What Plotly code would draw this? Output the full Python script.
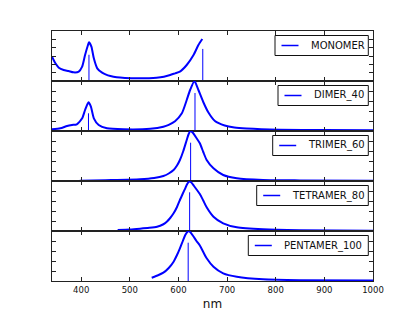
import plotly.graph_objects as go
from plotly.subplots import make_subplots

# ---------------- data ----------------
names = ["MONOMER", "DIMER_40", "TRIMER_60", "TETRAMER_80", "PENTAMER_100"]

monomer_nm = [340, 347, 354, 364, 374, 384, 395, 402, 408, 414, 416, 421, 426, 433, 443, 450,
              460, 473, 490, 520, 555, 570, 583, 593, 603, 617, 631, 641, 649]
monomer_abs = [2.92, 2.12, 1.6, 1.32, 1.2, 1.04, 1.12, 1.72, 3.12, 4.32, 4.64, 4.12, 2.72, 1.52, 1.0, 0.8,
               0.6, 0.44, 0.36, 0.32, 0.4, 0.52, 0.72, 0.92, 1.12, 1.92, 3.12, 4.32, 5.04]

dimer_nm = [340, 357, 371, 381, 391, 402, 408, 415, 420, 426, 436, 453, 487, 542, 569, 580, 593, 607,
            617, 624, 633, 641, 651, 661, 675, 695, 715, 740, 808, 900, 1000]
dimer_abs = [0.17, 0.27, 0.5, 0.6, 0.67, 1.27, 2.1, 2.87, 2.43, 1.27, 0.6, 0.27, 0.17, 0.22, 0.43, 0.62, 0.98, 1.77,
             3.1, 4.1, 5.0, 4.1, 2.9, 1.9, 1.0, 0.55, 0.35, 0.25, 0.13, 0.1, 0.08]

trimer_nm = [397, 450, 521, 550, 569, 580, 590, 597, 603, 610, 617, 621, 625, 630, 637, 644, 651, 658,
             672, 692, 720, 774, 850, 1000]
trimer_abs = [0.03, 0.08, 0.17, 0.3, 0.5, 0.75, 1.1, 1.55, 2.1, 3.0, 4.1, 4.7, 5.0, 4.8, 4.3, 3.77, 2.9, 2.1,
              1.27, 0.6, 0.27, 0.1, 0.06, 0.03]

tetramer_nm = [475, 500, 521, 540, 556, 568, 576, 583, 590, 597, 603, 609, 614, 618, 622, 626, 632, 638,
               644, 651, 658, 672, 692, 720, 774, 850, 1000]
tetramer_abs = [0.1, 0.15, 0.23, 0.32, 0.43, 0.65, 0.93, 1.3, 1.77, 2.4, 3.1, 3.75, 4.27, 4.7, 4.95, 4.88, 4.5, 4.1,
                3.7, 3.05, 2.37, 1.43, 0.77, 0.37, 0.17, 0.08, 0.03]

pentamer_nm = [545, 557, 569, 580, 590, 597, 603, 609, 614, 619, 621, 625, 631, 637, 644, 651, 658,
               672, 692, 720, 774, 850, 1000]
pentamer_abs = [0.33, 0.55, 0.83, 1.3, 1.93, 2.6, 3.27, 4.0, 4.6, 4.95, 5.0, 4.85, 4.45, 4.0, 3.55, 2.9, 2.27,
                1.43, 0.77, 0.43, 0.17, 0.08, 0.05]

# stick spectra (transition wavelength, strength)
monomer_stick_nm = [416, 650]
monomer_stick_h = [3.15, 3.85]
dimer_stick_nm = [415, 634]
dimer_stick_h = [1.77, 3.8]
trimer_stick_nm = [625]
trimer_stick_h = [3.83]
tetramer_stick_nm = [623]
tetramer_stick_h = [3.87]
pentamer_stick_nm = [620]
pentamer_stick_h = [3.83]

y_max = [6, 5, 5, 5, 5]
x_ticks = [400, 500, 600, 700, 800, 900, 1000]

series = [
    (monomer_nm, monomer_abs, monomer_stick_nm, monomer_stick_h),
    (dimer_nm, dimer_abs, dimer_stick_nm, dimer_stick_h),
    (trimer_nm, trimer_abs, trimer_stick_nm, trimer_stick_h),
    (tetramer_nm, tetramer_abs, tetramer_stick_nm, tetramer_stick_h),
    (pentamer_nm, pentamer_abs, pentamer_stick_nm, pentamer_stick_h),
]

# ---------------- figure ----------------
# page body has an 8px margin: the figure is offset by (8, 8) in the window
OFF = 8
W, H = 407, 304
PLOT_L, PLOT_R, PLOT_T, PLOT_B = 52, 373, 31, 281   # target window pixels
ML = PLOT_L - OFF
MR = OFF + W - PLOT_R
MT = PLOT_T - OFF
MB = OFF + H - PLOT_B
PW = W - ML - MR
PH_PANEL = (H - MT - MB) / 5.0
FONT = "DejaVu Sans"
BLUE = "#0000ff"

fig = make_subplots(rows=5, cols=1, shared_xaxes=True, vertical_spacing=0)

for i, (nm, ab, snm, sh) in enumerate(series):
    r = i + 1
    fig.add_trace(go.Scatter(x=nm, y=ab, mode="lines", line=dict(color=BLUE, width=2, shape="spline", smoothing=0.6),
                             showlegend=False, hoverinfo="skip"), row=r, col=1)
    sx, sy = [], []
    for p, h in zip(snm, sh):
        sx += [p, p, None]
        sy += [0, h, None]
    fig.add_trace(go.Scatter(x=sx, y=sy, mode="lines", line=dict(color=BLUE, width=1),
                             showlegend=False, hoverinfo="skip"), row=r, col=1)

    fig.update_yaxes(range=[0, y_max[i]], dtick=1, showticklabels=False, ticks="inside", ticklen=4,
                     tickcolor="#222", showline=True, linecolor="#222", linewidth=1, mirror="ticks",
                     showgrid=False, zeroline=False, automargin=False, row=r, col=1)
    fig.update_xaxes(range=[340, 1000], tickvals=x_ticks, ticks="inside", ticklen=4, tickcolor="#222",
                     showline=True, linecolor="#222", linewidth=1, mirror="ticks", showgrid=False,
                     zeroline=False, automargin=False, showticklabels=(r == 5), row=r, col=1)

fig.update_xaxes(title=dict(text="nm", font=dict(family=FONT, size=12, color="#111"), standoff=5),
                 tickfont=dict(family=FONT, size=8.5, color="#111"), ticklabelstandoff=1, row=5, col=1)

# ---------------- legends (drawn per panel) ----------------
legend_left_px = [275, 278, 272.7, 256.7, 248.3]
legend_right_px = 368.3
for i, name in enumerate(names):
    r = i + 1
    xs = "x" if r == 1 else f"x{r}"
    ys = "y" if r == 1 else f"y{r}"
    xref = xs + " domain"
    yref = ys + " domain"
    def dx(px):
        return (px - PLOT_L) / PW
    def dy(off):
        return 1 - off / PH_PANEL
    left = legend_left_px[i]
    fig.add_shape(type="rect", xref=xref, yref=yref, x0=dx(left), x1=dx(legend_right_px),
                  y0=dy(24.5), y1=dy(4.5), line=dict(color="#111", width=1), fillcolor="white", layer="above")
    fig.add_shape(type="line", xref=xref, yref=yref, x0=dx(left + 6.5), x1=dx(left + 23.5),
                  y0=dy(14.5), y1=dy(14.5), line=dict(color=BLUE, width=1.5), layer="above")
    fig.add_annotation(xref=xref, yref=yref, x=dx(left + 33.5), y=dy(14.5), text=name, showarrow=False,
                       xanchor="left", yanchor="middle", font=dict(family=FONT, size=10, color="#111"))

fig.update_layout(width=W, height=H, margin=dict(l=ML, r=MR, t=MT, b=MB), plot_bgcolor="white",
                  paper_bgcolor="white", showlegend=False)

fig.write_html("out.html")
